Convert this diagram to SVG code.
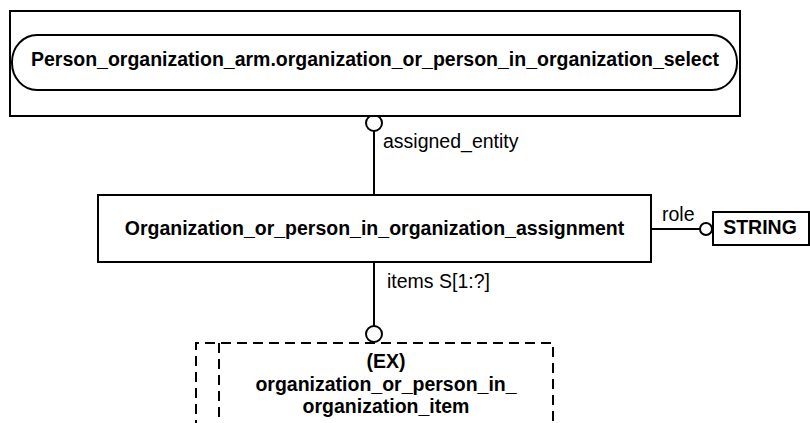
<svg xmlns="http://www.w3.org/2000/svg" width="810" height="423" viewBox="0 0 810 423">
<style>
.box{fill:#fff;stroke:#000;stroke-width:2}
.dash{fill:none;stroke:#000;stroke-width:2;stroke-dasharray:10 6}
.line{fill:none;stroke:#000;stroke-width:2}
.circ{fill:#fff;stroke:#000;stroke-width:2}
.b{font-family:"Liberation Sans",Arial,sans-serif;font-weight:bold;font-size:19.5px;fill:#000}
.r{font-family:"Liberation Sans",Arial,sans-serif;font-size:19.5px;fill:#000}
</style>
<rect width="810" height="423" fill="#fff"/>
<g id="connectors">
<line class="line" x1="374" y1="131" x2="374" y2="195"/>
<circle class="circ" cx="374" cy="123" r="8"/>
<text class="r" x="383" y="148">assigned_entity</text>
<line class="line" x1="651" y1="229" x2="700" y2="229"/>
<circle class="circ" cx="706" cy="229" r="6"/>
<text class="r" x="662" y="221">role</text>
<line class="line" x1="374" y1="262" x2="374" y2="326"/>
<circle class="circ" cx="374" cy="334" r="8"/>
<text class="r" x="387" y="288">items S[1:?]</text>
</g>
<g id="select_node">
<rect class="box" x="10" y="11" width="730" height="105"/>
<rect class="box" x="12" y="35" width="725" height="55" rx="25" ry="27"/>
<text class="b" x="375" y="66" text-anchor="middle">Person_organization_arm.organization_or_person_in_organization_select</text>
</g>
<g id="assignment_node">
<rect class="box" x="98" y="195" width="553" height="67"/>
<text class="b" x="374.5" y="235" text-anchor="middle">Organization_or_person_in_organization_assignment</text>
</g>
<g id="string_node">
<rect class="box" x="713" y="212" width="96" height="33"/>
<text class="b" x="760" y="234" text-anchor="middle">STRING</text>
</g>
<g id="item_node">
<path class="dash" d="M196 430 V343 H553 V430"/>
<line class="dash" x1="219" y1="343" x2="219" y2="430"/>
<text class="b" x="386" y="368" text-anchor="middle">(EX)</text>
<text class="b" x="386" y="391" text-anchor="middle">organization_or_person_in_</text>
<text class="b" x="386" y="413" text-anchor="middle">organization_item</text>
</g>
</svg>
